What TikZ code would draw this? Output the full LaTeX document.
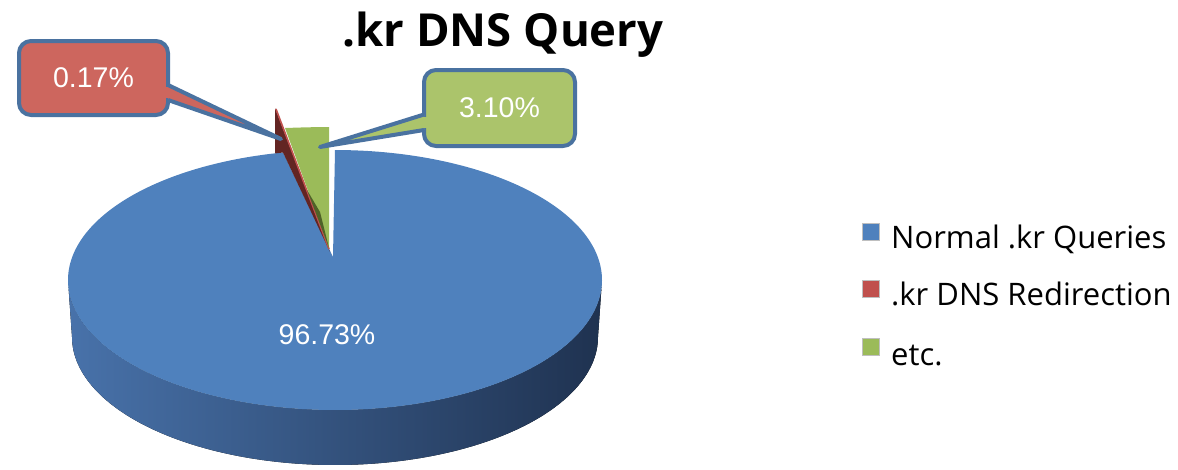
\documentclass[tikz,border=0pt]{standalone}
\usepackage{fontspec}
\setmainfont{Liberation Sans}
\newfontfamily\opensans{Open Sans}
\usetikzlibrary{calc}
\definecolor{pieblue}{HTML}{4F81BD}
\definecolor{piered}{HTML}{C0504D}
\definecolor{piegreen}{HTML}{9BBB59}
\definecolor{walldark}{HTML}{1F3250}
\definecolor{wallleft}{HTML}{4872AA}
\definecolor{redwall}{HTML}{632523}
\definecolor{olivewall}{HTML}{4F6228}
\definecolor{boxred}{HTML}{CD665E}
\definecolor{boxgreen}{HTML}{ABC46B}
\definecolor{boxline}{HTML}{4A72A0}
\begin{document}
\begin{tikzpicture}[x=1pt,y=-1pt,
  callout/.style={draw=boxline, line width=4pt, rounded corners=12pt, inner sep=0pt, outer sep=0pt, text=white, font=\fontsize{28.5}{30}\selectfont},
  pointer/.style={draw=boxline, line width=4pt, line join=round},
  legsq/.style={draw=gray!50, line width=0.5pt, minimum size=17pt, inner sep=0pt},
  legtext/.style={anchor=base west, font=\opensans\fontsize{31}{33}\selectfont, text=black, inner sep=0pt}
]
\useasboundingbox (0,0) rectangle (1178,469);

% side wall of the pie
\fill[left color=wallleft, right color=walldark]
  plot[domain=0:180, samples=120] ({335+267*cos(\x)},{280+130*sin(\x)})
  -- plot[domain=180:0, samples=120] ({335+263*cos(\x)},{337+128*sin(\x)}) -- cycle;

% top face of the blue slice
\fill[pieblue] (333,257) -- plot[domain=270:618.8, samples=260] ({335+267*cos(\x)},{280+130*sin(\x)}) -- cycle;

% exploded red slice
\fill[redwall] (275,108) -- (275,153.4) -- (283,152.5) -- (330,252) -- cycle;
\draw[piered, line width=1.6pt] (276,109) -- (329,249);

% exploded green slice
\fill[piegreen] (285,128) -- (307,127.3) -- (329,127) -- (329,248) -- cycle;
\fill[olivewall] (307,190) -- (320,212) -- (329,248) -- cycle;

% value in the big slice
\node[text=white, font=\fontsize{28.5}{30}\selectfont, inner sep=0pt] (bluelbl) at (327,335) {96.73\%};

% callouts
\coordinate (redtip) at (281,139);
\coordinate (greentip) at (320,147);

\node[callout, fill=boxred, minimum width=149pt, minimum height=74pt] (redlbl) at (93.5,78) {0.17\%};
\fill[boxred] ($(redlbl.east)+(0,7)$) -- (redtip) -- ($(redlbl.east)+(0,22)$) -- cycle;
\fill[boxred] ($(redlbl.east)+(-8,9.4)$) rectangle ($(redlbl.east)+(1,19.8)$);
\draw[pointer] ($(redlbl.east)+(0,7)$) -- (redtip) -- ($(redlbl.east)+(0,22)$);

\node[callout, fill=boxgreen, minimum width=151pt, minimum height=76pt] (greenlbl) at (499.5,108) {3.10\%};
\fill[boxgreen] ($(greenlbl.west)+(0,6.5)$) -- (greentip) -- ($(greenlbl.west)+(0,22)$) -- cycle;
\fill[boxgreen] ($(greenlbl.west)+(-1,8.6)$) rectangle ($(greenlbl.west)+(8,20)$);
\draw[pointer] ($(greenlbl.west)+(0,6.5)$) -- (greentip) -- ($(greenlbl.west)+(0,22)$);

% title
\node[anchor=base, font=\opensans\bfseries\fontsize{45.5}{50}\selectfont, inner sep=0pt] (title) at (503,46) {.kr DNS Query};

% legend
\node[legsq, fill=pieblue] (sq1) at (871,232) {};
\node[legsq, fill=piered] (sq2) at (871,289) {};
\node[legsq, fill=piegreen] (sq3) at (871,347) {};
\node[legtext] (lg1) at (891,248) {Normal .kr Queries};
\node[legtext] (lg2) at (891,305) {.kr DNS Redirection};
\node[legtext] (lg3) at (891,365) {etc.};
\end{tikzpicture}
\end{document}
